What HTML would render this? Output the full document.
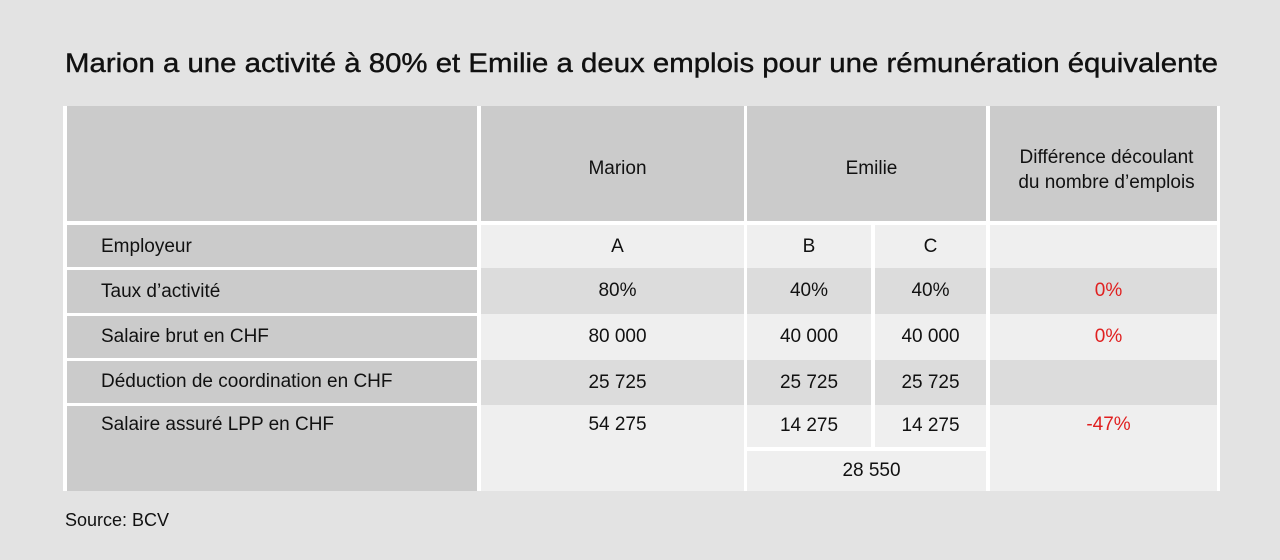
<!DOCTYPE html>
<html><head><meta charset="utf-8"><style>
body{margin:0;width:1280px;height:560px;background:#e3e3e3;font-family:"Liberation Sans",sans-serif;position:relative;overflow:hidden}
.b{position:absolute;box-sizing:border-box;display:flex;align-items:center;justify-content:center;font-size:19px;color:#111}
.l{justify-content:flex-start;padding-left:34px;background:#cbcbcb}
.h{background:#cbcbcb;text-align:center;line-height:25px}
.lt{background:#efefef}.dk{background:#dcdcdc}
.r{color:#e02020}
.w{position:absolute;background:#fff}
</style></head><body>
<svg style="position:absolute;left:0;top:0" width="1280" height="100"><text x="65" y="72" font-size="27" font-family="Liberation Sans, sans-serif" fill="#111" stroke="#111" stroke-width="0.4" textLength="1153" lengthAdjust="spacingAndGlyphs">Marion a une activité à 80% et Emilie a deux emplois pour une rémunération équivalente</text></svg>
<div>
<div class="w" style="left:63px;top:106px;width:1157px;height:385px"></div>
<div class="b h" style="left:67px;top:106px;width:410px;height:115px"></div>
<div class="b h" style="left:481px;top:106px;width:263px;height:115px;padding-top:10px;padding-left:10px">Marion</div>
<div class="b h" style="left:747px;top:106px;width:239px;height:115px;padding-top:10px;padding-left:10px">Emilie</div>
<div class="b h" style="left:990px;top:106px;width:227px;height:115px;padding-top:12px;padding-left:6px">Différence découlant<br>du nombre d’emplois</div>

<div class="b l" style="left:67px;top:225px;width:410px;height:42px;padding-top:2px">Employeur</div>
<div class="b l" style="left:67px;top:270px;width:410px;height:43px">Taux d’activité</div>
<div class="b l" style="left:67px;top:316px;width:410px;height:42px">Salaire brut en CHF</div>
<div class="b l" style="left:67px;top:361px;width:410px;height:42px">Déduction de coordination en CHF</div>
<div class="b l" style="left:67px;top:406px;width:410px;height:85px;align-items:flex-start;padding-top:8px">Salaire assuré LPP en CHF</div>

<div class="b lt" style="left:481px;top:225px;width:263px;height:43px;padding-left:10px">A</div>
<div class="b lt" style="left:747px;top:225px;width:124px;height:43px">B</div>
<div class="b lt" style="left:875px;top:225px;width:111px;height:43px">C</div>
<div class="b lt" style="left:990px;top:225px;width:227px;height:43px"></div>

<div class="b dk" style="left:481px;top:268px;width:263px;height:46px;padding-left:10px">80%</div>
<div class="b dk" style="left:747px;top:268px;width:124px;height:46px">40%</div>
<div class="b dk" style="left:875px;top:268px;width:111px;height:46px">40%</div>
<div class="b dk r" style="left:990px;top:268px;width:227px;height:46px;padding-left:10px">0%</div>

<div class="b lt" style="left:481px;top:314px;width:263px;height:46px;padding-left:10px">80 000</div>
<div class="b lt" style="left:747px;top:314px;width:124px;height:46px">40 000</div>
<div class="b lt" style="left:875px;top:314px;width:111px;height:46px">40 000</div>
<div class="b lt r" style="left:990px;top:314px;width:227px;height:46px;padding-left:10px">0%</div>

<div class="b dk" style="left:481px;top:360px;width:263px;height:45px;padding-left:10px">25 725</div>
<div class="b dk" style="left:747px;top:360px;width:124px;height:45px">25 725</div>
<div class="b dk" style="left:875px;top:360px;width:111px;height:45px">25 725</div>
<div class="b dk" style="left:990px;top:360px;width:227px;height:45px"></div>

<div class="b lt" style="left:481px;top:405px;width:263px;height:86px;align-items:flex-start;padding-top:9px;padding-left:10px">54 275</div>
<div class="b lt" style="left:747px;top:405px;width:124px;height:42px">14 275</div>
<div class="b lt" style="left:875px;top:405px;width:111px;height:42px">14 275</div>
<div class="b lt" style="left:747px;top:451px;width:239px;height:40px;padding-left:10px">28 550</div>
<div class="b lt r" style="left:990px;top:405px;width:227px;height:86px;align-items:flex-start;padding-top:9px;padding-left:10px">-47%</div>
</div>
<div style="position:absolute;left:65px;top:510px;font-size:18px;color:#111">Source: BCV</div>
</body></html>
